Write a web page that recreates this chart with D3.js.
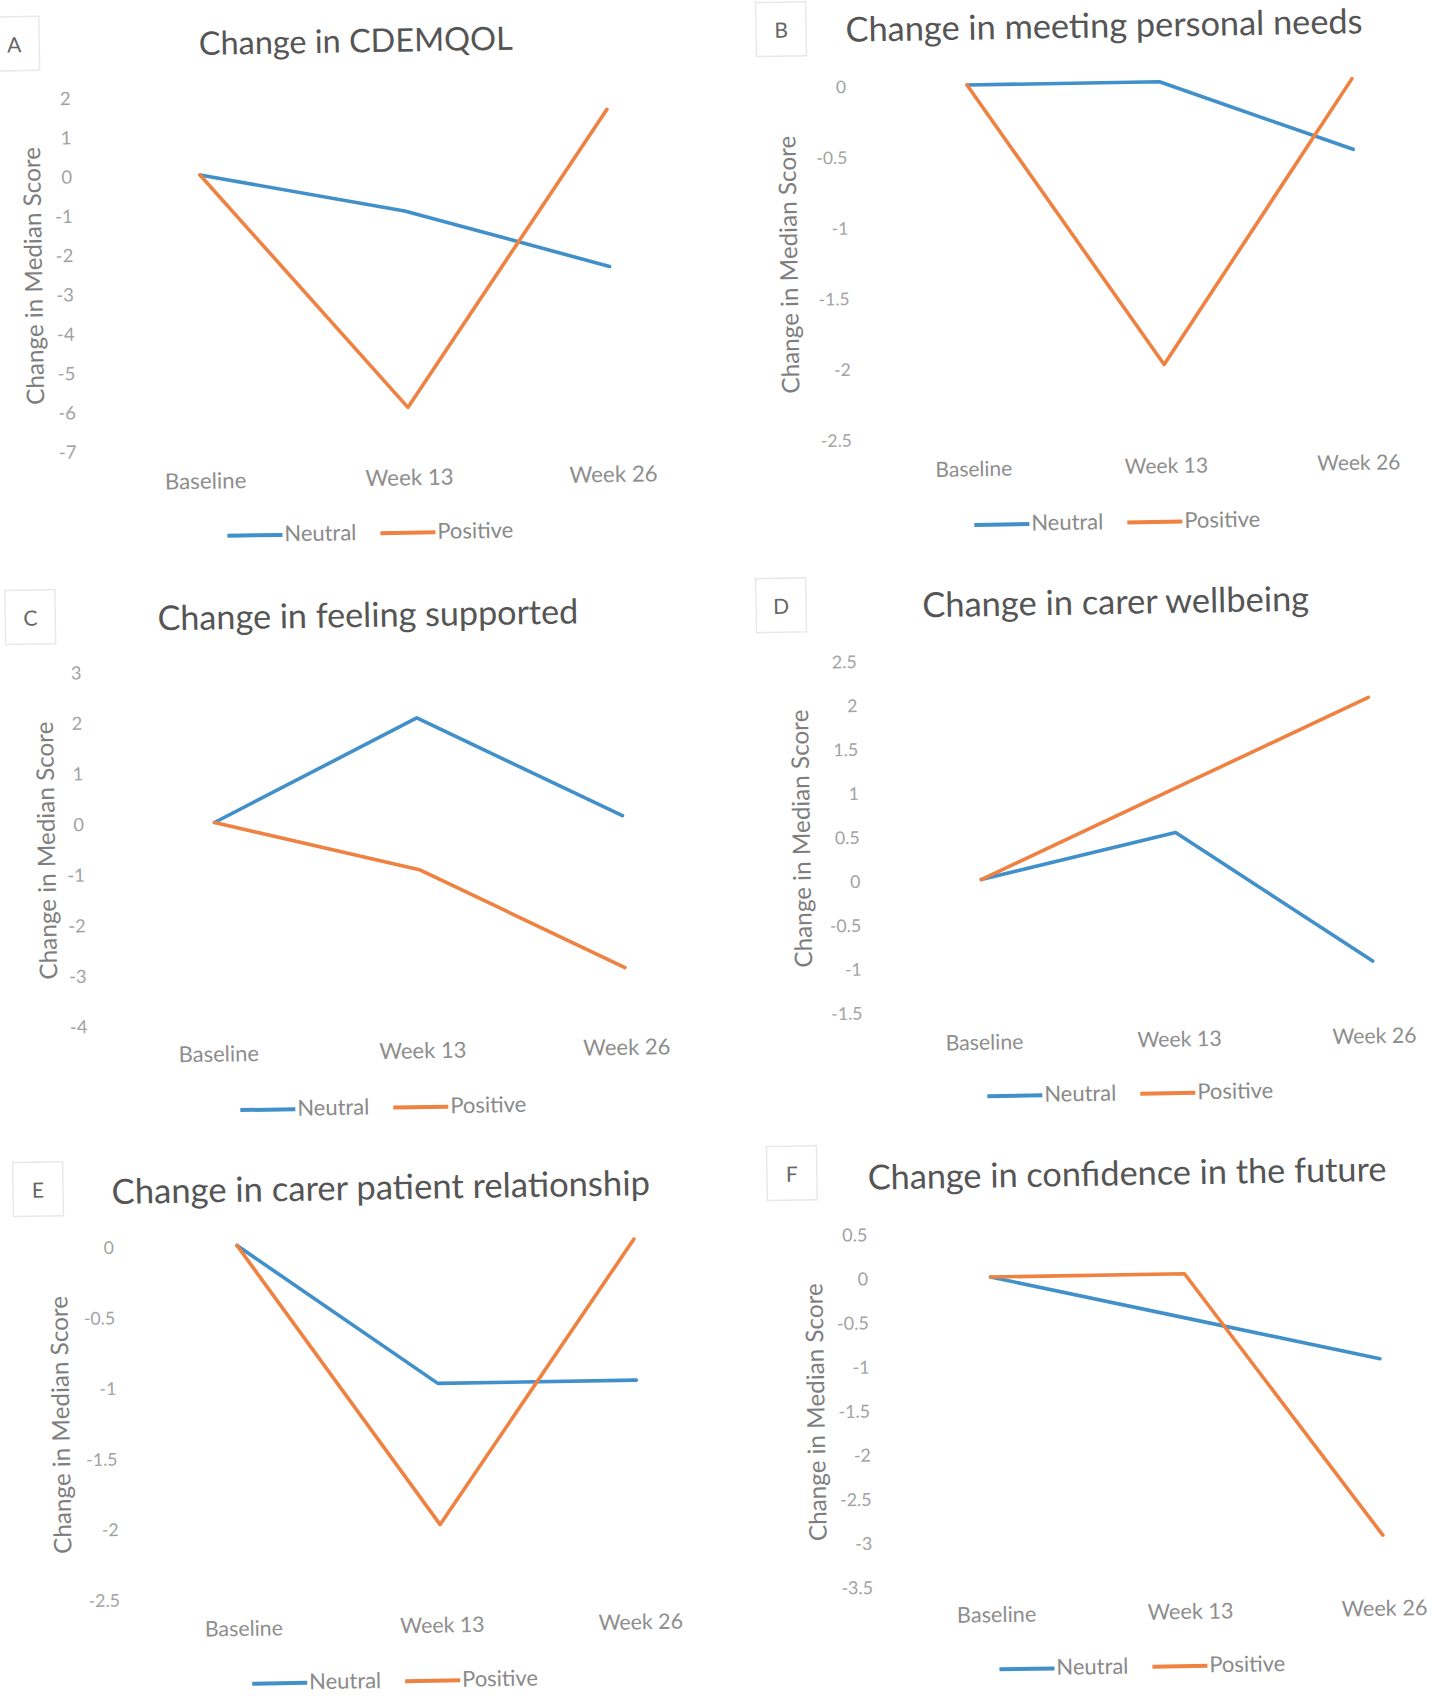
<!DOCTYPE html>
<html><head><meta charset="utf-8">
<script src="https://cdn.jsdelivr.net/npm/d3@7"></script>
<style>body{margin:0;background:#fff}svg{display:block}</style>
</head><body>
<svg id="chart" width="1446" height="1706"></svg>
<script>
// ---------- data ----------
const categories = ["Baseline", "Week 13", "Week 26"];
const seriesNames = ["Neutral", "Positive"];
const panelLetters = ["A", "B", "C", "D", "E", "F"];
const panelTitles = [
  "Change in CDEMQOL",
  "Change in meeting personal needs",
  "Change in feeling supported",
  "Change in carer wellbeing",
  "Change in carer patient relationship",
  "Change in confidence in the future"
];
const yAxisTitle = "Change in Median Score";
const neutralValues = [
  [0, -1, -2.5],
  [0, 0, -0.5],
  [0, 2, 0],
  [0, 0.5, -1],
  [0, -1, -1],
  [0, -0.5, -1]
];
const positiveValues = [
  [0, -6, 1.5],
  [0, -2, 0],
  [0, -1, -3],
  [0, 1, 2],
  [0, -2, 0],
  [0, 0, -3]
];
const yTickValues = [
  [2, 1, 0, -1, -2, -3, -4, -5, -6, -7],
  [0, -0.5, -1, -1.5, -2, -2.5],
  [3, 2, 1, 0, -1, -2, -3, -4],
  [2.5, 2, 1.5, 1, 0.5, 0, -0.5, -1, -1.5],
  [0, -0.5, -1, -1.5, -2, -2.5],
  [0.5, 0, -0.5, -1, -1.5, -2, -2.5, -3, -3.5]
];

// ---------- layout (positions / sizes only) ----------
const TILT = -0.95;
const layout = [
  {ax:200,   ay:175,    step:204,   ppu:39.3,  tickX:-128,   yTitleX:-169,   title:[158,-132.6],   titleW:314,   xLabY:306,   baseW:81.6, legend:[164.4,359.2], letter:[-183.6,-134.3]},
  {ax:967,   ay:85,     step:192.5, ppu:141.4, tickX:-121,   yTitleX:-182,   title:[138,-58.8],    titleW:517,   xLabY:384,   baseW:77,   legend:[143,438],     letter:[-185,-59]},
  {ax:214.5, ay:822.5,  step:204,   ppu:50.6,  tickX:-130.5, yTitleX:-169.4, title:[156.8,-206.6], titleW:421,   xLabY:231.5, baseW:80.5, legend:[164,286],     letter:[-180.8,-208.4]},
  {ax:981.3, ay:879.6,  step:195,   ppu:87.9,  tickX:-121,   yTitleX:-180,   title:[139,-276.9],   titleW:387,   xLabY:162.7, baseW:78,   legend:[145.4,214.7], letter:[-195.6,-277.6]},
  {ax:237,   ay:1245.5, step:198.5, ppu:141.2, tickX:-123,   yTitleX:-180,   title:[144.7,-57.2],  titleW:538.6, xLabY:383,   baseW:78,   legend:[150.9,436.4], letter:[-198,-59.6]},
  {ax:990.5, ay:1277,   step:194,   ppu:88.2,  tickX:-122.5, yTitleX:-177.7, title:[138.2,-103],   titleW:519,   xLabY:337.6, baseW:79.4, legend:[145.4,390.4], letter:[-196.9,-107.1]}
];
const colors = {Neutral:"#4290c9", Positive:"#ef8141"};
const FONT = "Lato, 'Open Sans', 'DejaVu Sans', sans-serif";

const svg = d3.select("#chart");
svg.append("rect").attr("width",1446).attr("height",1706).attr("fill","#fff");

function fit(sel, target) {
  const w = sel.node().getComputedTextLength();
  const fs = parseFloat(sel.attr("font-size"));
  const nfs = fs * target / w;
  sel.attr("font-size", nfs);
  return nfs;
}

layout.forEach((L, i) => {
  const g = svg.append("g")
    .attr("transform", `translate(${L.ax},${L.ay}) rotate(${TILT})`)
    .style("font-family", FONT);

  const ticks = yTickValues[i];
  const [yMin, yMax] = d3.extent(ticks);
  const y = d3.scaleLinear().domain([yMin, yMax]).range([-yMin * L.ppu, -yMax * L.ppu]);
  const x = d3.scalePoint().domain(categories).range([0, 2 * L.step]);

  // letter box
  const lg = g.append("g").attr("transform", `translate(${L.letter[0]},${L.letter[1]})`);
  lg.append("rect").attr("x",-25).attr("y",-27).attr("width",50).attr("height",54)
    .attr("fill","none").attr("stroke","#e8e8e8").attr("stroke-width",1.5);
  lg.append("text").text(panelLetters[i]).attr("text-anchor","middle")
    .attr("dominant-baseline","central").attr("font-size",21).attr("fill","#666");

  // title
  const t = g.append("text").text(panelTitles[i])
    .attr("x", L.title[0]).attr("y", L.title[1])
    .attr("text-anchor","middle").attr("dominant-baseline","central")
    .attr("font-size", 32).attr("fill", "#555");
  fit(t, L.titleW);

  // x axis labels
  const xAxis = g.append("g").attr("transform", `translate(0,${L.xLabY})`)
    .call(d3.axisBottom(x).tickSize(0).tickPadding(0));
  xAxis.select(".domain").remove();
  const xTexts = xAxis.selectAll("text").attr("y",0).attr("dy","0.35em")
    .attr("fill","#8e8e8e").attr("font-family",FONT).attr("font-size",20);
  const baseSize = fit(xAxis.select("text"), L.baseW);
  xTexts.attr("font-size", baseSize);

  // y axis ticks
  const yAxis = g.append("g").attr("transform", `translate(${L.tickX},0)`)
    .call(d3.axisLeft(y).tickValues(ticks).tickSize(0).tickPadding(0).tickFormat(d => String(d)));
  yAxis.select(".domain").remove();
  yAxis.selectAll("text").attr("fill","#a2a2a2").attr("font-family",FONT)
    .attr("font-size", baseSize * 0.83);

  // y axis title
  const plotMid = (y(yMin) + y(yMax)) / 2;
  const yt = g.append("text").text(yAxisTitle)
    .attr("transform", `translate(${L.yTitleX},${plotMid}) rotate(-90)`)
    .attr("text-anchor","middle").attr("dominant-baseline","central")
    .attr("font-size", 22).attr("fill","#7e7e7e");
  fit(yt, 258);

  // lines
  const line = d3.line().x((d, k) => x(categories[k])).y(d => y(d));
  [["Neutral", neutralValues[i]], ["Positive", positiveValues[i]]].forEach(([name, vals]) => {
    g.append("path").datum(vals).attr("d", line)
      .attr("fill","none").attr("stroke", colors[name]).attr("stroke-width", 3.6)
      .attr("stroke-linejoin","round").attr("stroke-linecap","round");
  });

  // legend
  const leg = g.append("g");
  let cx = 0;
  const items = [];
  seriesNames.forEach((name) => {
    const it = leg.append("g");
    it.append("line").attr("x1",0).attr("x2",55).attr("y1",2).attr("y2",2)
      .attr("stroke", colors[name]).attr("stroke-width",4);
    const tx = it.append("text").text(name).attr("x",57).attr("y",0)
      .attr("dominant-baseline","central").attr("font-size", 20).attr("fill","#8a8a8a");
    items.push({it, tx});
  });
  const legSize = fit(items[0].tx, 72);
  items[1].tx.attr("font-size", legSize);
  items.forEach((o, k) => {
    o.it.attr("transform", `translate(${cx},0)`);
    cx += 57 + o.tx.node().getComputedTextLength() + (k === 0 ? 24 : 0);
  });
  leg.attr("transform", `translate(${L.legend[0] - cx/2},${L.legend[1]})`);
});
</script>
</body></html>
